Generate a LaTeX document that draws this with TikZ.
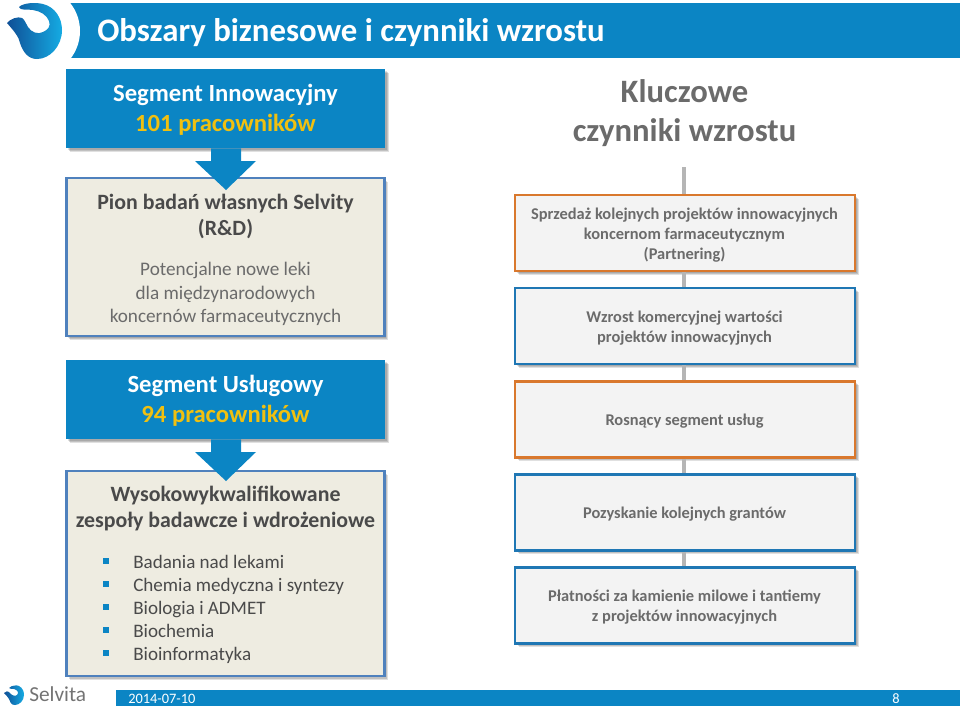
\documentclass[tikz,border=0pt]{standalone}
\usepackage{fontspec}
\setmainfont{Carlito}
\usetikzlibrary{shadows,calc}
\definecolor{barblue}{HTML}{0B85C4}
\definecolor{goldtxt}{HTML}{F0C010}
\definecolor{beige}{HTML}{EEECE1}
\definecolor{bordblue}{HTML}{4F81BD}
\definecolor{boxblue}{HTML}{1F77B4}
\definecolor{boxorange}{HTML}{D9782D}
\definecolor{panel}{HTML}{F3F3F3}
\definecolor{txtdark}{HTML}{4A4A4A}
\definecolor{txtgrey}{HTML}{6B6B6B}
\definecolor{linegrey}{HTML}{B5B5B5}
\definecolor{logodark}{HTML}{0F4F96}
\definecolor{logolight}{HTML}{15ABE3}
\tikzset{
 softshadow/.style={
  general shadow={shadow xshift=1.2pt,shadow yshift=-1.2pt,fill=black,opacity=.12},
  general shadow={shadow xshift=2pt,shadow yshift=-2pt,fill=black,opacity=.14},
  general shadow={shadow xshift=2.8pt,shadow yshift=-2.8pt,fill=black,opacity=.12}},
 segbox/.style={rectangle,fill=barblue,minimum width=239.25pt,minimum height=59.25pt,inner sep=0pt,softshadow},
 segtext/.style={align=center,inner sep=0pt,text=white,font=\fontsize{18.5}{22.5}\selectfont\bfseries},
 infobox/.style={rectangle,draw=bordblue,line width=1.6pt,fill=beige,minimum width=238.5pt,inner sep=0pt,softshadow},
 growbox/.style={rectangle,line width=1.7pt,fill=panel,minimum width=255pt,minimum height=57pt,inner sep=0pt,softshadow},
 growtext/.style={align=center,inner sep=0pt,text=txtgrey,font=\fontsize{12.3}{15}\selectfont\bfseries},
 bluebox/.style={growbox,draw=boxblue},
 orangebox/.style={growbox,draw=boxorange},
 downarrow/.style={fill=barblue,draw=none},
 link/.style={draw=linegrey,line width=2.4pt},
 bulletmark/.style={fill=barblue,draw=none,minimum size=4.2pt,inner sep=0pt,rectangle},
 listitem/.style={anchor=base west,inner sep=0pt,text=txtdark,font=\fontsize{14.3}{16}\selectfont},
}
\begin{document}
\begin{tikzpicture}[x=0.75pt,y=-0.75pt]
\useasboundingbox (0,0) rectangle (960,711);
% title bar
\fill[barblue] (66,3) rectangle (960,58);
\fill[white] (35,31) circle [radius=45];
\node[anchor=west,inner sep=0pt,text=white,font=\fontsize{24.6}{29}\selectfont\bfseries] (title) at (97,33) {Obszary biznesowe i czynniki wzrostu};
% logo
\shade[left color=logodark,right color=logolight]
 (19,7) .. controls (23,3) and (35,2) .. (43,4)
 .. controls (55,7) and (62,18) .. (62,30)
 .. controls (62,46) and (50,59) .. (37,59)
 .. controls (28,59) and (23,52) .. (20,43)
 .. controls (19,37) and (14,31) .. (7,23)
 .. controls (10,19) and (18,16) .. (22,18)
 .. controls (25,20) and (26,24) .. (28,27)
 .. controls (31,32) and (38,35) .. (43,32)
 .. controls (48,30) and (51,26) .. (49,21)
 .. controls (47,15) and (40,11) .. (33,10)
 .. controls (28,9) and (20,11) .. (19,7) -- cycle;
% connectors behind boxes
\coordinate (linetop) at (684,167);
\node[orangebox] (g1) at (685,233) {};
\node[bluebox] (g2) at (685,326) {};
\node[orangebox] (g3) at (685,419.5) {};
\node[bluebox] (g4) at (685,512.5) {};
\node[bluebox] (g5) at (685,605.5) {};
\node[growtext] (g1t) at (684.5,235) {Sprzedaż kolejnych projektów innowacyjnych\\koncernom farmaceutycznym\\(Partnering)};
\node[growtext] (g2t) at (684.5,328) {Wzrost komercyjnej wartości\\projektów innowacyjnych};
\node[growtext] (g3t) at (684.5,421.5) {Rosnący segment usług};
\node[growtext] (g4t) at (684.5,514.5) {Pozyskanie kolejnych grantów};
\node[growtext] (g5t) at (684.5,607.5) {Płatności za kamienie milowe i tantiemy\\z projektów innowacyjnych};
\draw[link] (linetop) -- (linetop |- g1.north);
\draw[link] (linetop |- g1.south) -- (linetop |- g2.north);
\draw[link] (linetop |- g2.south) -- (linetop |- g3.north);
\draw[link] (linetop |- g3.south) -- (linetop |- g4.north);
\draw[link] (linetop |- g4.south) -- (linetop |- g5.north);
% heading
\node[align=center,inner sep=0pt,text=txtgrey,font=\fontsize{24.5}{29.25}\selectfont\bfseries] (kc) at (684.5,113) {Kluczowe\\czynniki wzrostu};
% left
\node[infobox,minimum height=118.5pt] (pion) at (225.5,257) {};
\node[infobox,minimum height=153.5pt] (zesp) at (225.5,573.5) {};
\node[segbox] (s1) at (225.5,108.5) {};
\node[segbox] (s2) at (225.5,399.5) {};
\node[segtext] (s1t) at (225.5,110) {Segment Innowacyjny\\\textcolor{goldtxt}{101 pracowników}};
\node[segtext] (s2t) at (225.5,401) {Segment Usługowy\\\textcolor{goldtxt}{94 pracowników}};
\fill[downarrow] (s1.south -| 211,0) -- (211,161) -- (195,161) -- (226,190) -- (256,161) -- (241,161) -- (s1.south -| 241,0) -- cycle;
\fill[downarrow] (s2.south -| 211,0) -- (211,452) -- (195,452) -- (226,481) -- (256,452) -- (241,452) -- (s2.south -| 241,0) -- cycle;
\node[align=center,inner sep=0pt,text=txtdark,font=\fontsize{16.4}{19.5}\selectfont\bfseries] (pt1) at (225.5,216) {Pion badań własnych Selvity\\(R\&D)};
\node[align=center,inner sep=0pt,text=txtgrey,font=\fontsize{14.4}{17.6}\selectfont] (pt2) at (225.5,294) {Potencjalne nowe leki\\dla międzynarodowych\\koncernów farmaceutycznych};
\node[align=center,inner sep=0pt,text=txtdark,font=\fontsize{16.4}{19.5}\selectfont\bfseries] (zt) at (225.5,509) {Wysokowykwalifikowane\\zespoły badawcze i wdrożeniowe};
\foreach \n/\yy/\t in {a/562/Badania nad lekami,b/585/Chemia medyczna i syntezy,c/608/Biologia i ADMET,d/631/Biochemia,e/654/Bioinformatyka}{
 \node[bulletmark] (bm\n) at (106,\yy-1) {};
 \node[listitem] (li\n) at (133,\yy+6) {\t};
}
% footer
\fill[barblue] (116,690) rectangle (960,705.5);
\node[anchor=base west,inner sep=0pt,text=white,font=\fontsize{10.8}{12}\selectfont] (date) at (128,703) {2014-07-10};
\node[anchor=base,inner sep=0pt,text=white,font=\fontsize{10.8}{12}\selectfont] (page) at (896,703) {8};
% small logo
\shade[left color=logodark,right color=logolight]
 (9,688) .. controls (12,685) and (17,685) .. (19,686)
 .. controls (23,688) and (24,692) .. (24,695)
 .. controls (24,701) and (19,705) .. (15,705)
 .. controls (11,705) and (10,702) .. (9,699)
 .. controls (8,697) and (6,695) .. (4,693)
 .. controls (6,691) and (8,691) .. (9,692)
 .. controls (11,695) and (15,697) .. (17,695)
 .. controls (19,693) and (18,690) .. (14,689)
 .. controls (12,689) and (10,689) .. (9,688) -- cycle;
\node[anchor=base west,inner sep=0pt,text=black!55,font=\fontsize{16}{18}\selectfont] (selv) at (29,701) {Selvita};
\end{tikzpicture}
\end{document}
